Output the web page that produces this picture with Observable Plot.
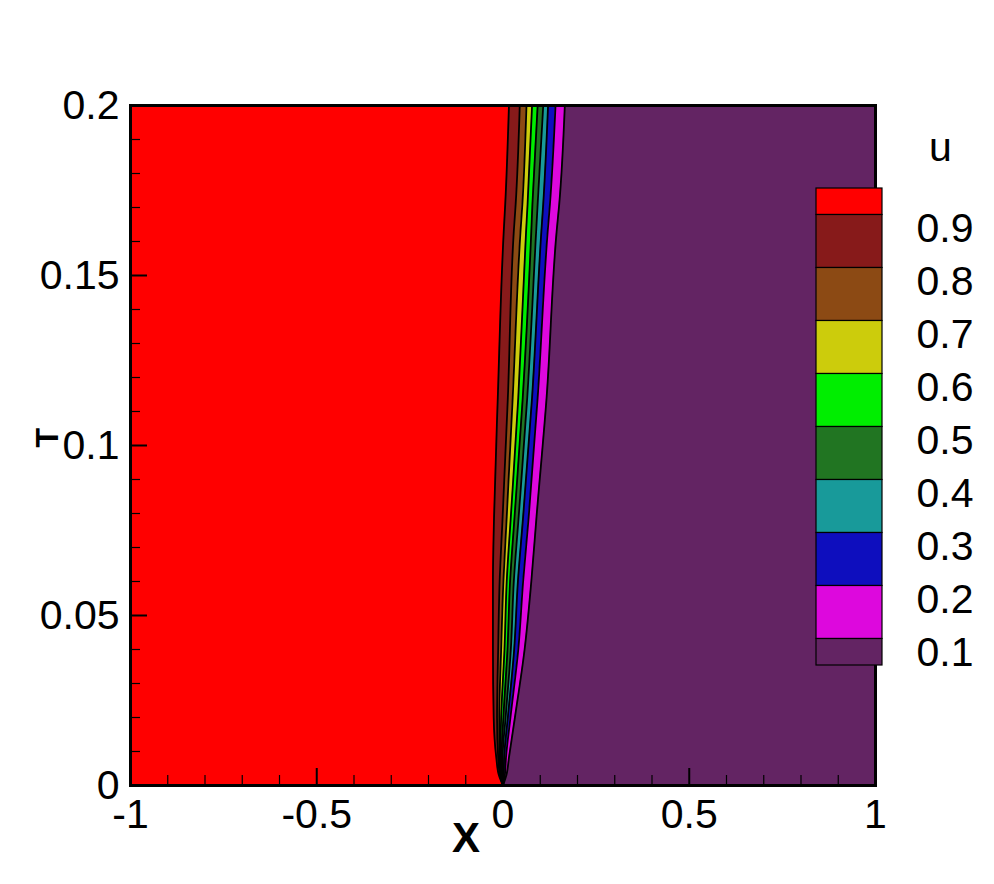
<!DOCTYPE html>
<html><head><meta charset="utf-8">
<script src="https://cdn.jsdelivr.net/npm/d3@7"></script>
<script src="https://cdn.jsdelivr.net/npm/@observablehq/plot@0.6"></script>
<style>
body{margin:0;background:#fff;}
#wrap{position:relative;width:994px;height:884px;overflow:hidden;background:#fff;}
#main{position:absolute;left:0;top:0;}
#legend{position:absolute;left:815px;top:128px;}
</style></head><body><div id="wrap"><div id="main"></div><div id="legend"></div></div>
<script>
// time values (T axis) at which contour boundaries were read
const T   = [0, 0.003, 0.0082, 0.02, 0.04, 0.06, 0.079, 0.114, 0.163, 0.171, 0.2];
// X position of each contour level u = 0.9 ... 0.1 at those times
const x90 = [0, -0.011, -0.018, -0.025, -0.027, -0.027, -0.024, -0.014, 0.002, 0.006, 0.016];
const x80 = [0, -0.008, -0.013, -0.016, -0.013, -0.009, -0.001, 0.013, 0.029, 0.034, 0.045];
const x70 = [0, -0.006, -0.010, -0.010, -0.005, 0.001, 0.010, 0.026, 0.047, 0.052, 0.063];
const x60 = [0, -0.004, -0.007, -0.005, 0.004, 0.010, 0.021, 0.041, 0.062, 0.066, 0.078];
const x50 = [0, -0.002, -0.004, 0.001, 0.012, 0.019, 0.031, 0.053, 0.076, 0.079, 0.093];
const x40 = [0, 0.000, -0.001, 0.007, 0.021, 0.029, 0.042, 0.065, 0.089, 0.093, 0.108];
const x30 = [0, 0.002, 0.003, 0.013, 0.030, 0.040, 0.054, 0.078, 0.103, 0.108, 0.121];
const x20 = [0, 0.005, 0.008, 0.020, 0.041, 0.054, 0.069, 0.093, 0.120, 0.126, 0.141];
const x10 = [0, 0.009, 0.016, 0.032, 0.058, 0.076, 0.090, 0.117, 0.144, 0.151, 0.166];

const levels = [0.9, 0.8, 0.7, 0.6, 0.5, 0.4, 0.3, 0.2, 0.1];
// colours from top band (u > 0.9) to bottom band (u < 0.1)
const bandColors = ["#ff0000", "#871a1a", "#8c4a14", "#cccc0c", "#00ee00", "#217522", "#189a9a", "#0e0ebe", "#dd08dd", "#632463"];

const xTickLabels = [-1, -0.5, 0, 0.5, 1];
const yTickLabels = [0, 0.05, 0.1, 0.15, 0.2];
const xMajorTicks = [-0.5, 0, 0.5];
const xMinorTicks = [-0.9, -0.8, -0.7, -0.6, -0.4, -0.3, -0.2, -0.1, 0.1, 0.2, 0.3, 0.4, 0.6, 0.7, 0.8, 0.9];
const yMajorTicks = [0.05, 0.1, 0.15];
const yMinorTicks = [0.01, 0.02, 0.03, 0.04, 0.06, 0.07, 0.08, 0.09, 0.11, 0.12, 0.13, 0.14, 0.16, 0.17, 0.18, 0.19];

const boundaryArrays = [x90, x80, x70, x60, x50, x40, x30, x20, x10];
const keys = levels.map(l => "b" + Math.round(l * 100));
const rows = T.map((t, i) => {
  const r = {t};
  keys.forEach((k, j) => r[k] = boundaryArrays[j][i]);
  return r;
});

const font = "'Liberation Sans', Arial, Helvetica, sans-serif";
const W = 994, H = 884, mL = 130, mR = 119, mT = 105, mB = 99;
const pw = W - mL - mR, ph = H - mT - mB;

const marks = [Plot.frame({fill: bandColors[0], stroke: null})];
keys.forEach((k, j) => {
  marks.push(Plot.areaX(rows, {y: "t", x1: k, x2: 1, fill: bandColors[j + 1], curve: "monotone-y", clip: true}));
});
keys.forEach(k => {
  marks.push(Plot.lineX(rows, {y: "t", x: k, stroke: "black", strokeWidth: 1.8, curve: "monotone-y", clip: true}));
});
marks.push(
  Plot.tickX(xMinorTicks, {x: d => d, stroke: "black", strokeWidth: 1.2, insetTop: ph - 10}),
  Plot.tickX(xMajorTicks, {x: d => d, stroke: "black", strokeWidth: 2, insetTop: ph - 17}),
  Plot.tickY(yMinorTicks, {y: d => d, stroke: "black", strokeWidth: 1.2, insetRight: pw - 10}),
  Plot.tickY(yMajorTicks, {y: d => d, stroke: "black", strokeWidth: 2, insetRight: pw - 17}),
  Plot.frame({stroke: "black", strokeWidth: 3}),
  Plot.axisX({ticks: xTickLabels, tickFormat: d => String(d), tickSize: 0, tickPadding: 13, fontSize: 41, label: null}),
  Plot.axisY({ticks: yTickLabels, tickFormat: d => String(d), tickSize: 0, tickPadding: 11, fontSize: 41, label: null}),
  Plot.text(["X"], {frameAnchor: "bottom", text: d => d, dx: -37, dy: 53, fontSize: 42, fontWeight: "bold", lineAnchor: "middle"}),
  Plot.text(["T"], {frameAnchor: "left", text: d => d, dx: -83, dy: 2, rotate: -90, fontSize: 32, fontWeight: "bold", lineAnchor: "middle"})
);

const chart = Plot.plot({
  width: W, height: H,
  marginLeft: mL, marginRight: mR, marginTop: mT, marginBottom: mB,
  x: {domain: [-1, 1]},
  y: {domain: [0, 0.2]},
  style: {fontFamily: font, background: "transparent", overflow: "visible", color: "black"},
  marks
});
document.getElementById("main").appendChild(chart);

// legend
const legendBands = bandColors.map((c, i) => ({
  color: c,
  hi: i === 0 ? 0.95 : levels[i - 1],
  lo: i === bandColors.length - 1 ? 0.05 : levels[i]
}));
const legend = Plot.plot({
  width: 178, height: 567,
  marginLeft: 1, marginRight: 111, marginTop: 60, marginBottom: 30,
  x: {domain: [0, 1], axis: null},
  y: {domain: [0.05, 0.95]},
  style: {fontFamily: font, background: "transparent", overflow: "visible", color: "black"},
  marks: [
    Plot.rect(legendBands, {x1: 0, x2: 1, y1: "lo", y2: "hi", fill: "color", stroke: "black", strokeWidth: 1.2}),
    Plot.axisY({ticks: levels, anchor: "right", tickFormat: d => String(d), tickSize: 0, tickPadding: 34, dy: 14, fontSize: 41, label: null}),
    Plot.text(["u"], {frameAnchor: "top-right", text: d => d, dx: 58, dy: -41, fontSize: 41, textAnchor: "middle", lineAnchor: "middle"})
  ]
});
document.getElementById("legend").appendChild(legend);
</script></body></html>
